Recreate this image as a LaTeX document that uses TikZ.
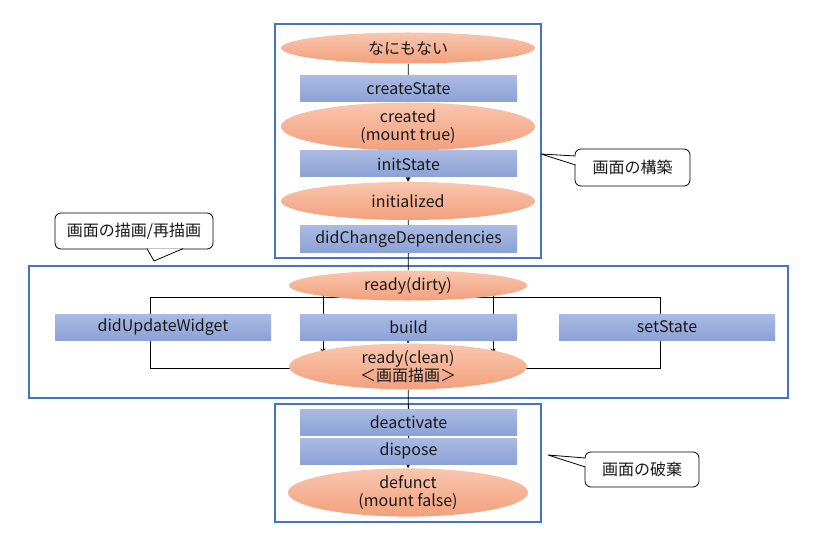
\documentclass[tikz,border=0pt]{standalone}
\usepackage{fontspec}
\setmainfont{Noto Sans CJK JP}
\usetikzlibrary{shapes.geometric,backgrounds,calc,arrows.meta}
\definecolor{frameblue}{HTML}{4472C4}
\definecolor{elltop}{HTML}{F8C6AF}
\definecolor{ellbot}{HTML}{F3A07C}
\definecolor{boxtop}{HTML}{AABAE3}
\definecolor{boxbot}{HTML}{8CA1D6}
\tikzset{
  base/.style={font=\fontsize{16}{18}\selectfont, text=black!90, inner sep=0pt, align=center},
  ell/.style={base, ellipse, top color=elltop, bottom color=ellbot, minimum width=254pt, minimum height=31pt},
  box/.style={base, rectangle, top color=boxtop, bottom color=boxbot, minimum width=217pt, minimum height=26pt},
  frame/.style={draw=frameblue, line width=2.3pt},
  conn/.style={draw=black, line width=0.8pt},
  arr/.style={conn, -{Stealth[length=5pt,width=5pt]}},
  callout/.style={base, draw=black, fill=white, line width=0.8pt, rounded corners=6pt, rectangle},
}
\begin{document}
\begin{tikzpicture}[x=1pt,y=-1pt]
\useasboundingbox (0,0) rectangle (819,540);
% top group
\node[ell] (n0) at (408,48) {なにもない};
\node[box] (cs) at (408.5,89) {createState};
\node[ell, minimum height=39pt] (cr) at (408,126.5) {created\\(mount true)};
\node[box] (is) at (408.5,164) {initState};
\node[ell, minimum height=38pt] (ini) at (408,201) {initialized};
\node[box] (dcd) at (408.5,239) {didChangeDependencies};
% middle group
\node[ell, minimum width=238pt, minimum height=30pt] (dirty) at (408,285.5) {ready(dirty)};
\node[box, minimum width=216pt] (upd) at (163,327) {didUpdateWidget};
\node[box] (build) at (408.5,327) {build};
\node[box, minimum width=216pt] (set) at (667,327) {setState};
\node[ell, minimum width=238pt, minimum height=37pt] (clean) at (408,366.5) {ready(clean)\\＜画面描画＞};
% bottom group
\node[box] (deact) at (408.5,422) {deactivate};
\node[box] (disp) at (408.5,451) {dispose};
\node[ell, minimum width=240pt, minimum height=39pt] (def) at (408,492.5) {defunct\\(mount false)};
% loop coordinates
\coordinate (lt) at (150,297);
\coordinate (lb) at (150,368);
\coordinate (rt) at (660,297);
\coordinate (rb) at (660,368);
\begin{pgfonlayer}{background}
  \draw[frame] (275,24) rectangle (541,258);
  \draw[frame] (29,266) rectangle (788,398);
  \draw[frame] (275,404) rectangle (541,522);
  \draw[conn] (n0) -- (cs);
  \draw[arr] (cs) -- (cr.north);
  \draw[conn] (cr) -- (is);
  \draw[arr] (is) -- (ini.north);
  \draw[conn] (ini) -- (dcd);
  \draw[conn] (dcd) -- (dirty);
  \draw[conn] (dirty.center |- lt) -- (lt) -- (lb) -- (clean.center |- lb);
  \draw[conn] (dirty.center |- rt) -- (rt) -- (rb) -- (clean.center |- rb);
  \draw[arr] ($(dirty.center)+(-85,0)$) -- ($(clean.center)+(-85,-13)$);
  \draw[arr] ($(dirty.center)+(85,0)$) -- ($(clean.center)+(85,-13)$);
  \draw[arr] (build) -- (clean.north);
  \draw[conn] (clean) -- (deact);
  \draw[conn] (deact) -- (disp);
  \draw[arr] (disp) -- (def.north);
\end{pgfonlayer}
% callouts
\node[callout, minimum width=115pt, minimum height=37pt] (c1) at (632.5,167.5) {画面の構築};
\coordinate (t1) at (541,154);
\fill[white] (576,156) -- (t1) -- (576,165) -- cycle;
\draw[line width=0.8pt, line join=round] (575.6,156) -- (t1) -- (575.6,165);
\node[callout, minimum width=158pt, minimum height=36pt] (c2) at (134,231) {画面の描画/再描画};
\coordinate (t2) at (154,261);
\fill[white] (147,248.5) -- (t2) -- (183,248.5) -- cycle;
\draw[line width=0.8pt, line join=round] (147,248.6) -- (t2) -- (183,248.6);
\node[callout, minimum width=114pt, minimum height=35pt] (c3) at (642,469.5) {画面の破棄};
\coordinate (t3) at (548,455);
\fill[white] (585.5,458) -- (t3) -- (585.5,467) -- cycle;
\draw[line width=0.8pt, line join=round] (585.4,458) -- (t3) -- (585.4,467);
\end{tikzpicture}
\end{document}
